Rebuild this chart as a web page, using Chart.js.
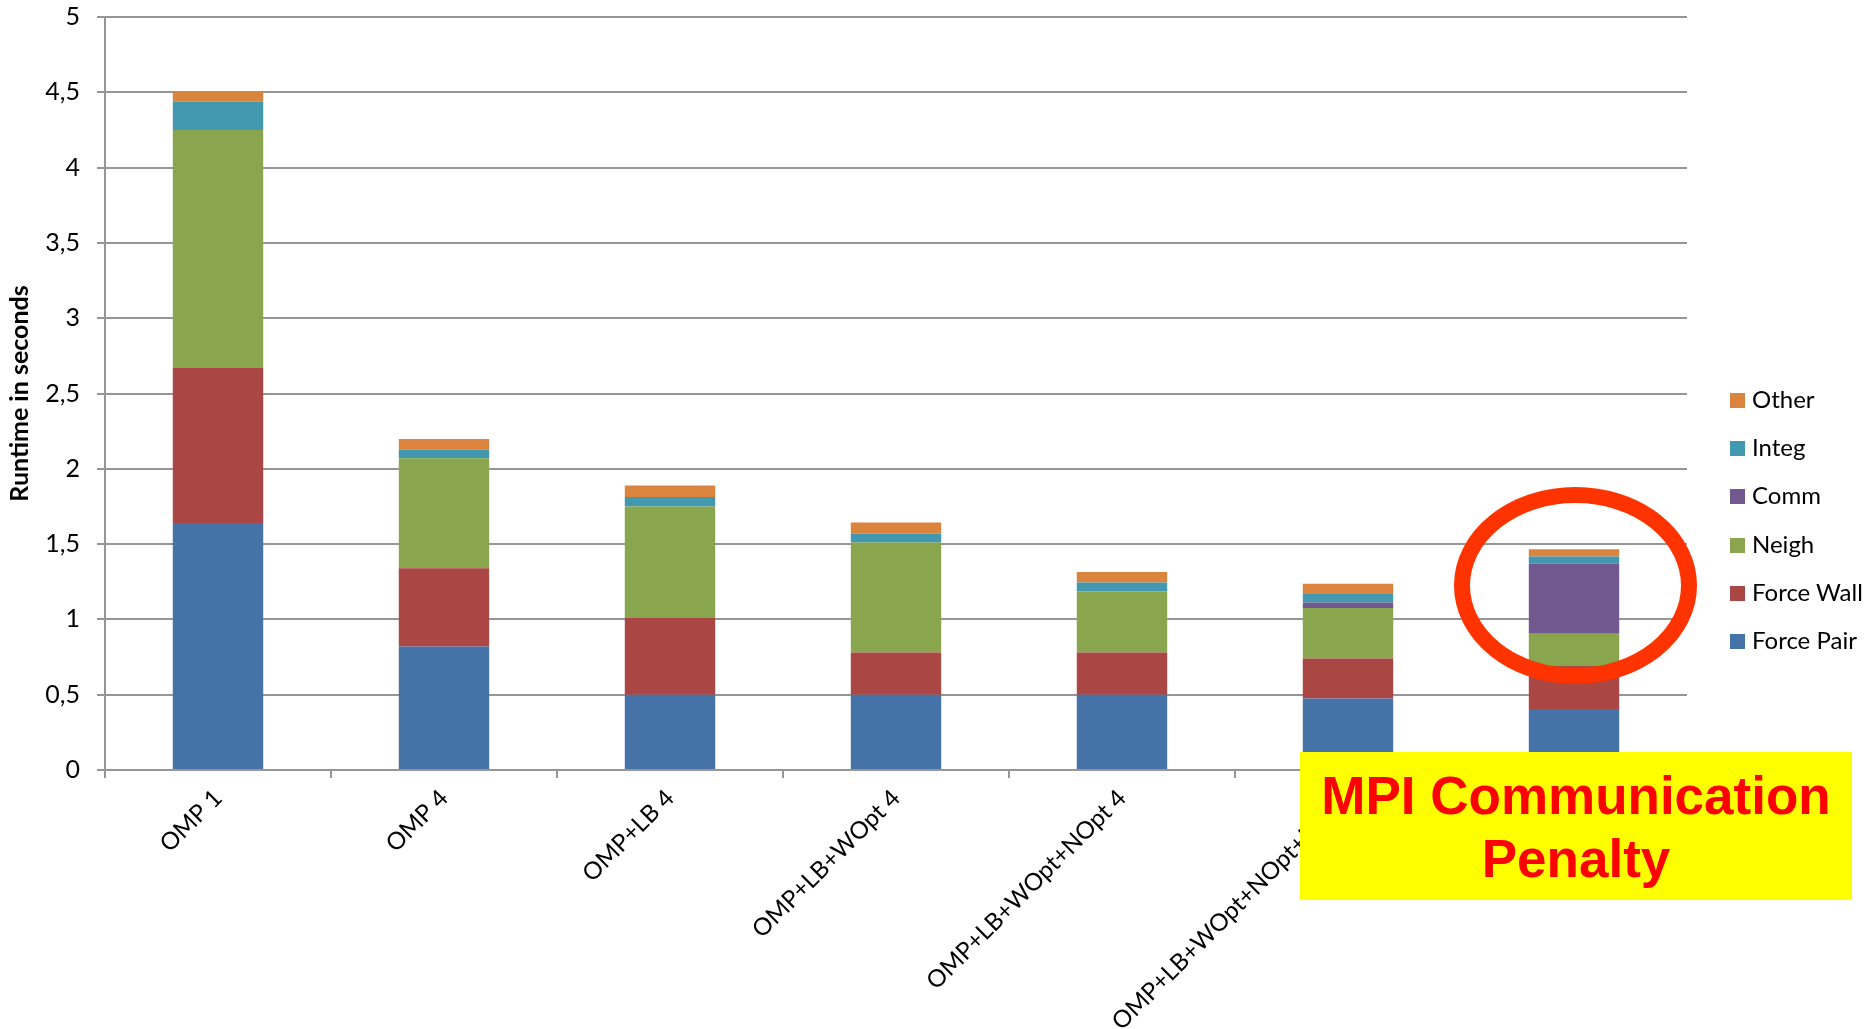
<!DOCTYPE html>
<html>
<head>
<meta charset="utf-8">
<title>Runtime breakdown</title>
<script src="https://cdn.jsdelivr.net/npm/chart.js@4.4.1/dist/chart.umd.min.js"></script>
<style>
  html, body { margin: 0; padding: 0; background: #fff; }
  #wrap { position: relative; width: 1870px; height: 1029px; overflow: hidden; font-family: Lato, "Open Sans", sans-serif; }
  #chart { position: absolute; left: 0; top: 0; }
  #ring { position: absolute; left: 0; top: 0; pointer-events: none; }
  .key { position: absolute; left: 1730px; height: 24px; line-height: 24px; font-size: 24px; color: #000; white-space: nowrap; }
  .key i { position: absolute; left: 0; top: 5px; width: 15px; height: 15px; }
  .key span { position: absolute; left: 22px; top: -1px; }
  #penalty {
    position: absolute; left: 1300px; top: 752px; width: 552px; height: 148px;
    box-sizing: border-box; padding-top: 12px;
    background: #ffff00; color: #ff0000; text-align: center;
    font: bold 53px/63px "Liberation Sans", Arial, sans-serif;
  }
</style>
</head>
<body>
<div id="wrap">
  <canvas id="chart" width="1870" height="1029"></canvas>
  <svg id="ring" width="1870" height="1029">
    <ellipse cx="1575.5" cy="585.5" rx="113.5" ry="90.5" fill="none" stroke="#ff3300" stroke-width="16"></ellipse>
  </svg>
  <div id="legend"></div>
  <div id="penalty">MPI Communication<br>Penalty</div>
</div>
<script>
// runtime per phase, seconds
var categories = [
  "OMP 1",
  "OMP 4",
  "OMP+LB 4",
  "OMP+LB+WOpt 4",
  "OMP+LB+WOpt+NOpt 4",
  "OMP+LB+WOpt+NOpt+MPI 4",
  "MPI 4"
];
var forcePair = [1.64, 0.82, 0.50, 0.50, 0.50, 0.475, 0.405];
var forceWall = [1.03, 0.52, 0.51, 0.28, 0.28, 0.265, 0.285];
var neigh     = [1.58, 0.73, 0.74, 0.73, 0.405, 0.335, 0.215];
var comm      = [0, 0, 0, 0, 0, 0.038, 0.465];
var integ     = [0.187, 0.058, 0.062, 0.06, 0.06, 0.06, 0.047];
var other     = [0.067, 0.07, 0.077, 0.073, 0.07, 0.064, 0.049];

var yTicks = [0, 0.5, 1, 1.5, 2, 2.5, 3, 3.5, 4, 4.5, 5];

(function () {
  var gridColor = "#969696";
  var fontFamily = "Lato, 'Open Sans', sans-serif";

  var series = [
    { label: "Force Pair", data: forcePair, color: "#4572a7" },
    { label: "Force Wall", data: forceWall, color: "#aa4643" },
    { label: "Neigh", data: neigh, color: "#89a54e" },
    { label: "Comm", data: comm, color: "#71588f" },
    { label: "Integ", data: integ, color: "#4198af" },
    { label: "Other", data: other, color: "#db843d" }
  ];

  var datasets = series.map(function (s) {
    return {
      label: s.label,
      data: s.data,
      backgroundColor: s.color,
      borderWidth: 0,
      categoryPercentage: 1,
      barPercentage: 0.4
    };
  });

  new Chart(document.getElementById("chart"), {
    type: "bar",
    data: { labels: categories, datasets: datasets },
    options: {
      responsive: false,
      animation: false,
      layout: { padding: { top: 17, right: 183, bottom: 0, left: 0 } },
      plugins: {
        legend: { display: false },
        tooltip: { enabled: false }
      },
      scales: {
        x: {
          stacked: true,
          grid: { offset: true, drawOnChartArea: false, color: gridColor, lineWidth: 2, tickLength: 8 },
          border: { color: gridColor, width: 2 },
          ticks: {
            autoSkip: false,
            minRotation: 45,
            maxRotation: 45,
            padding: 6,
            color: "#000",
            font: { family: fontFamily, size: 24 }
          },
          afterFit: function (scale) {
            scale.height = 259;
          }
        },
        y: {
          stacked: true,
          min: 0,
          max: 5,
          afterBuildTicks: function (scale) {
            scale.ticks = yTicks.map(function (v) { return { value: v }; });
          },
          ticks: {
            padding: 17,
            color: "#000",
            font: { family: fontFamily, size: 25 },
            callback: function (value) {
              return String(value).replace(".", ",");
            }
          },
          grid: { color: gridColor, lineWidth: 2, tickLength: 8 },
          border: { color: gridColor, width: 2 },
          title: {
            display: true,
            text: "Runtime in seconds",
            color: "#000",
            font: { family: fontFamily, size: 25, weight: "bold" },
            padding: { top: 5, bottom: 0 }
          },
          afterFit: function (scale) {
            // fixed axis width, and no extra room reserved for the end labels
            scale.width = 105;
            scale.paddingTop = 0;
            scale.paddingBottom = 0;
          }
        }
      }
    }
  });

  // legend on the right, top entry is the last stacked series
  var legend = document.getElementById("legend");
  series.slice().reverse().forEach(function (s, i) {
    var row = document.createElement("div");
    row.className = "key";
    row.style.top = (400 + 48.2 * i - 12) + "px";
    var sw = document.createElement("i");
    sw.style.background = s.color;
    var txt = document.createElement("span");
    txt.textContent = s.label;
    row.appendChild(sw);
    row.appendChild(txt);
    legend.appendChild(row);
  });
})();
</script>
</body>
</html>
